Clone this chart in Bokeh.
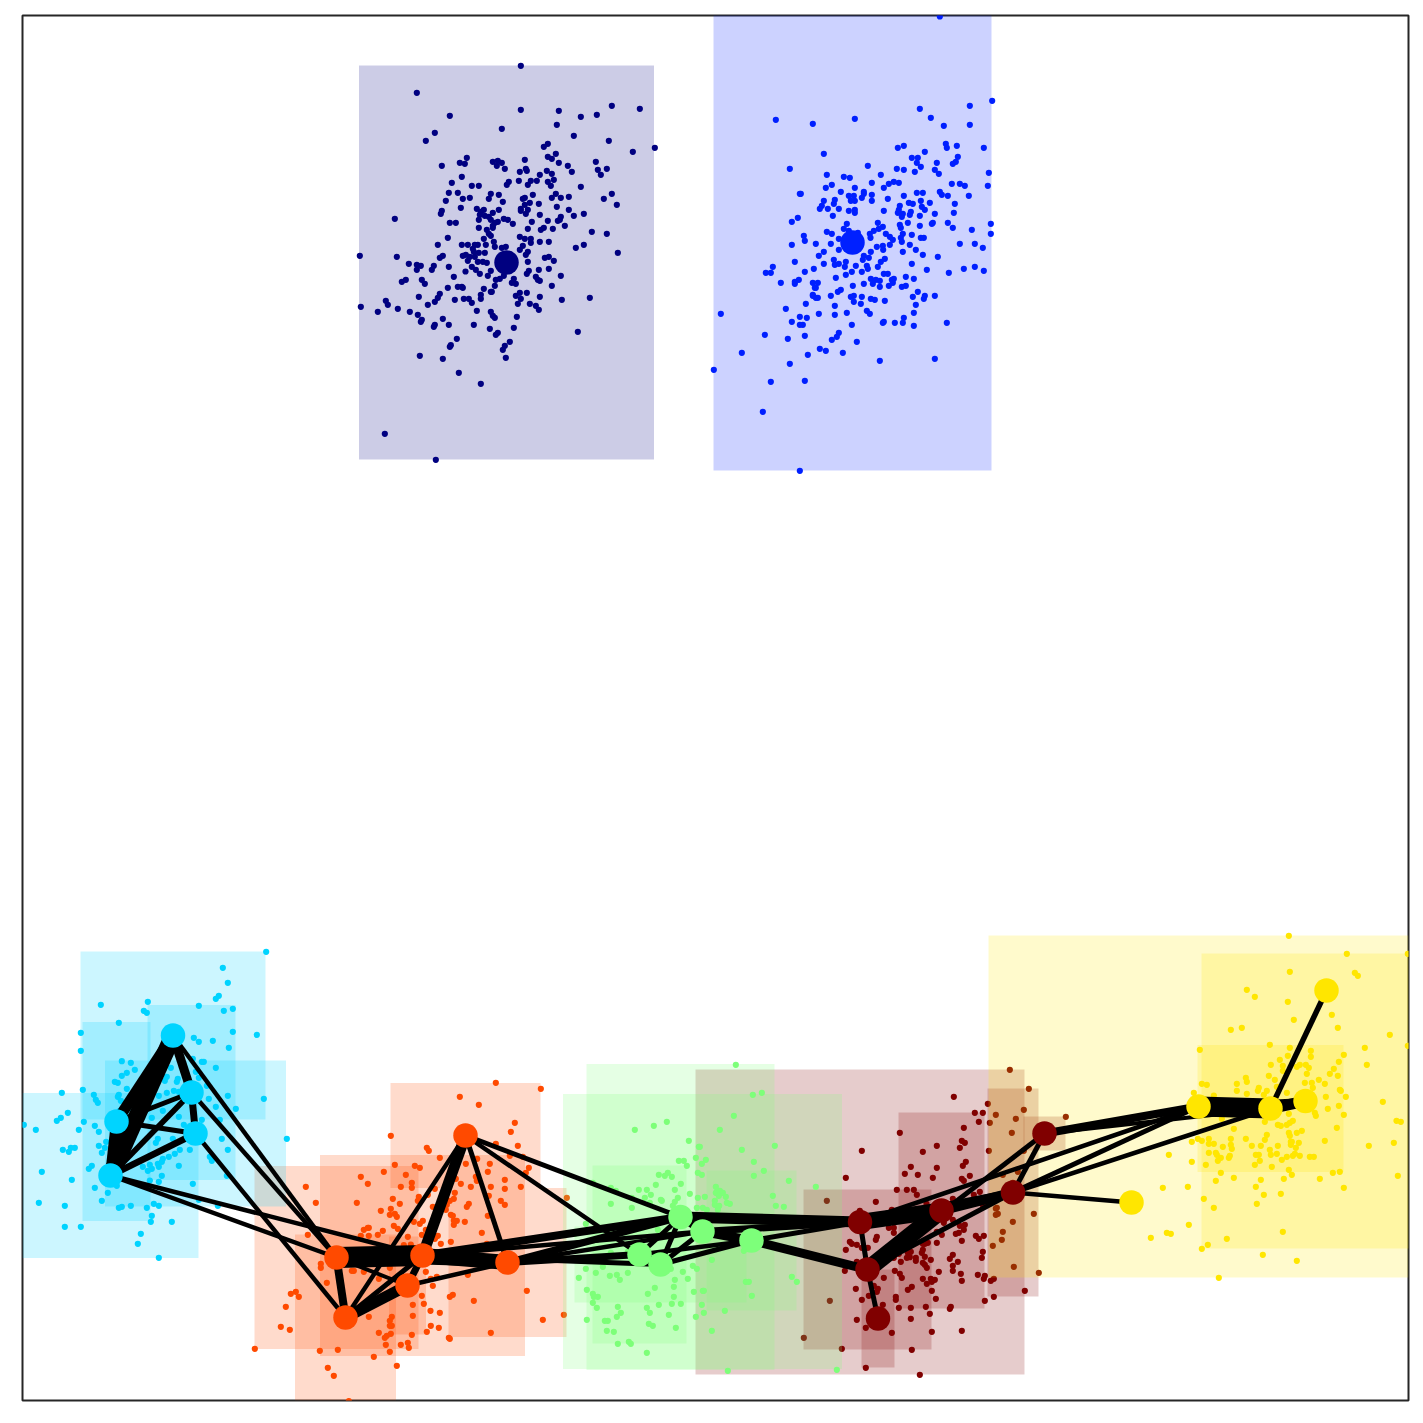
from bokeh.plotting import figure
from bokeh.models import Range1d
from bokeh.embed import file_html
from bokeh.resources import INLINE

colors = dict(darkred="#800000", orange="#ff4a00", yellow="#ffe600", green="#7dff7a",
              cyan="#00d4ff", blue="#0020ff", navy="#000080")

# scatter samples, read as (x, y) at 3x within a reference window whose origin is in origins
origins = dict(navy=(340, 50), blue=(700, 10), cyan=(15, 940), orange=(250, 1070),
               green=(555, 1055), darkred=(790, 1060), yellow=(1110, 925))

navy_pts = [(541,46),(229,127),(328,196),(541,178),(655,181),(721,199),(769,193),(814,166),(898,175),(943,292),(283,247),(256,271),(484,235),(649,223),(700,256),(805,271),(877,304),(622,280),(610,289),(646,310),(622,319),(634,325),(655,337),(682,346),(694,364),(766,334),(772,358),(781,373),(799,355),(304,346),(358,337),(373,340),(379,322),(457,334),(469,346),(484,337),(472,331),(493,355),(553,328),(538,364),(556,355),(559,361),(598,373),(619,361),(634,370),(640,388),(622,394),(631,406),(589,391),(571,391),(562,403),(535,391),(505,394),(499,403),(364,379),(334,397),(394,406),(415,406),(721,409),(325,427),(352,427),(367,445),(388,442),(451,430),(475,433),(445,445),(487,454),(316,451),(361,472),(409,475),(430,478),(421,484),(475,478),(457,487),(547,445),(553,442),(577,433),(568,457),(553,463),(541,475),(541,481),(562,478),(556,490),(595,460),(634,442),(646,430),(661,442),(685,439),(649,469),(685,478),(700,496),(730,490),(790,445),(814,430),(829,463),(304,481),(301,490),(598,493),(661,499),(652,511),(658,508),(622,511),(574,514),(163,505),(328,517),(346,517),(415,508),(418,493),(433,496),(445,499),(451,508),(463,517),(472,514),(457,526),(490,505),(502,508),(517,520),(415,532),(439,538),(457,532),(562,535),(601,538),(610,532),(637,535),(673,526),(754,544),(799,550),(322,562),(445,550),(451,556),(430,565),(538,559),(553,565),(571,565),(571,577),(598,574),(625,574),(730,583),(706,592),(292,583),(364,583),(382,583),(403,583),(412,583),(436,583),(460,574),(463,589),(484,592),(496,589),(547,586),(538,598),(832,607),(58,616),(169,619),(205,640),(229,643),(241,646),(229,658),(274,658),(280,646),(298,622),(307,616),(325,649),(367,616),(376,613),(382,631),(388,619),(397,595),(400,604),(403,619),(415,607),(433,607),(412,634),(427,634),(439,637),(394,649),(406,658),(418,670),(375,663),(451,661),(442,676),(562,604),(556,613),(562,634),(613,622),(625,619),(640,631),(625,655),(595,658),(565,661),(559,670),(586,679),(592,688),(598,691),(661,676),(340,679),(244,688),(253,700),(184,694),(196,688),(466,688),(478,685),(490,676),(514,697),(526,700),(520,685),(634,706),(322,712),(352,709),(364,709),(367,712),(430,715),(463,706),(451,724),(454,724),(298,730),(235,739),(292,742),(283,754),(262,763),(343,748),(370,745),(385,745),(394,757),(421,733),(421,745),(526,736),(538,727),(559,727),(541,745),(532,760),(598,739),(568,760),(586,766),(595,778),(664,748),(748,742),(136,751),(142,763),(61,769),(112,784),(172,775),(208,784),(232,793),(244,808),(241,814),(307,805),(325,823),(283,823),(280,829),(409,781),(451,784),(457,796),(463,802),(529,799),(400,823),(448,835),(472,847),(466,853),(520,832),(712,844),(349,865),(331,884),(328,889),(508,874),(493,886),(487,898),(238,916),(307,925),(496,922),(355,967),(421,1000),(133,1150),(286,1228)]

blue_pts = [(718,18),(875,271),(808,286),(658,295),(691,322),(226,328),(337,340),(463,325),(730,346),(808,343),(370,430),(592,412),(610,406),(736,400),(739,412),(769,406),(850,412),(673,424),(634,442),(652,442),(772,439),(766,454),(757,460),(709,457),(649,457),(661,469),(643,484),(703,478),(715,490),(268,475),(502,466),(589,475),(610,478),(865,487),(379,493),(430,499),(448,502),(541,493),(514,517),(565,520),(580,514),(595,517),(754,520),(778,520),(793,526),(862,526),(394,523),(376,532),(463,532),(550,532),(421,544),(298,550),(301,550),(445,556),(460,556),(490,544),(490,550),(484,562),(514,553),(514,571),(562,565),(610,556),(649,547),(667,547),(718,544),(724,553),(742,556),(805,556),(370,571),(403,568),(400,580),(451,571),(463,571),(364,586),(358,595),(382,595),(415,595),(445,601),(463,598),(463,607),(397,616),(550,601),(598,586),(595,598),(592,607),(607,610),(604,619),(625,577),(637,580),(661,571),(664,589),(673,598),(688,577),(763,580),(760,607),(703,610),(631,604),(628,613),(658,616),(292,622),(274,634),(439,640),(532,637),(598,643),(622,637),(601,652),(658,646),(697,637),(694,640),(742,637),(757,652),(871,640),(871,670),(814,658),(430,655),(379,664),(394,670),(445,661),(472,667),(547,649),(535,655),(520,661),(508,670),(510,682),(556,670),(568,679),(577,688),(607,670),(601,682),(604,694),(634,673),(661,682),(670,682),(310,676),(313,691),(274,703),(346,700),(391,700),(415,685),(415,718),(370,724),(355,736),(529,709),(547,706),(548,718),(568,703),(607,724),(628,703),(646,718),(667,733),(712,739),(778,700),(823,700),(847,712),(511,724),(490,736),(487,748),(505,742),(553,745),(541,754),(283,754),(400,748),(436,754),(403,763),(415,760),(370,760),(433,769),(466,766),(499,766),(502,775),(532,769),(634,760),(217,769),(196,787),(211,787),(340,775),(313,784),(454,784),(484,784),(436,793),(406,802),(550,790),(562,790),(679,778),(745,787),(790,775),(823,769),(850,781),(241,817),(283,820),(295,808),(283,814),(337,817),(352,817),(346,832),(343,832),(457,826),(490,820),(511,805),(526,808),(538,811),(517,820),(538,829),(565,826),(574,808),(580,805),(577,817),(616,799),(640,805),(604,829),(616,826),(337,856),(337,853),(346,862),(352,862),(391,856),(412,844),(421,838),(451,859),(460,856),(484,859),(511,865),(523,868),(553,871),(652,844),(637,859),(673,856),(670,865),(703,856),(316,880),(460,874),(481,880),(403,886),(646,883),(256,895),(61,910),(355,910),(403,913),(439,907),(499,901),(508,910),(640,907),(298,919),(319,922),(610,922),(274,934),(298,943),(307,943),(454,943),(547,937),(550,934),(583,937),(607,937),(640,946),(739,937),(193,973),(262,985),(313,976),(415,967),(409,979),(394,988),(469,994),(358,1015),(376,1021),(427,1027),(124,1027),(322,1033),(268,1060),(538,1051),(703,1045),(40,1078),(211,1114),(313,1111),(187,1204),(298,1381)]

cyan_pts = [(752,34),(622,82),(637,127),(610,166),(601,175),(256,193),(397,184),(385,211),(394,217),(550,196),(625,211),(652,205),(310,247),(196,277),(652,274),(724,283),(535,292),(550,304),(592,301),(640,322),(196,331),(319,362),(346,367),(358,388),(334,397),(319,406),(298,424),(307,427),(334,445),(532,355),(559,364),(565,364),(601,382),(466,382),(454,409),(448,421),(487,415),(484,424),(541,394),(550,412),(574,436),(139,457),(202,448),(235,463),(241,478),(247,487),(310,463),(307,469),(316,481),(355,475),(430,466),(454,457),(475,451),(490,454),(637,466),(745,475),(601,499),(580,475),(661,505),(313,511),(442,511),(157,517),(136,532),(124,541),(205,544),(238,556),(190,568),(61,568),(25,553),(250,574),(409,532),(490,529),(505,553),(559,538),(613,538),(472,595),(427,595),(421,607),(619,595),(814,595),(272,604),(250,616),(268,622),(259,637),(166,622),(178,622),(142,628),(160,634),(493,628),(523,628),(637,628),(478,640),(460,649),(442,655),(439,664),(427,670),(403,673),(382,679),(409,685),(397,691),(430,679),(490,676),(583,649),(589,661),(229,676),(220,685),(79,694),(169,718),(439,706),(403,720),(430,724),(532,730),(634,706),(238,742),(304,736),(277,757),(259,781),(70,787),(148,796),(310,802),(319,799),(346,796),(394,802),(415,790),(430,796),(550,778),(607,796),(409,826),(406,844),(469,844),(148,859),(196,859),(376,880),(367,910),(430,952)]

orange_pts = [(736,37),(871,55),(628,79),(685,103),(793,157),(781,184),(421,196),(736,220),(802,226),(529,232),(535,241),(568,262),(778,256),(817,259),(680,265),(646,280),(718,280),(433,283),(493,286),(508,292),(835,292),(712,304),(826,307),(400,304),(466,313),(331,319),(352,340),(484,337),(484,352),(451,349),(616,325),(631,340),(661,349),(676,319),(679,331),(721,349),(763,328),(763,355),(811,349),(166,349),(553,355),(613,367),(505,379),(502,391),(532,373),(427,385),(448,400),(610,385),(598,391),(589,403),(586,418),(547,409),(655,400),(649,409),(715,376),(751,391),(763,403),(949,382),(196,397),(319,397),(421,415),(391,421),(418,433),(433,430),(439,439),(712,436),(601,433),(607,436),(610,450),(619,451),(610,463),(643,454),(490,454),(517,451),(508,460),(430,466),(442,475),(340,478),(355,472),(352,472),(397,481),(382,493),(355,496),(331,496),(172,493),(472,499),(514,493),(526,478),(556,499),(562,496),(553,505),(694,487),(601,514),(571,520),(460,524),(481,522),(709,520),(211,580),(211,592),(304,601),(310,601),(340,604),(418,592),(385,625),(526,604),(559,619),(541,625),(652,613),(547,646),(229,637),(136,664),(121,670),(145,679),(106,709),(514,676),(607,673),(598,679),(670,691),(829,661),(487,703),(520,700),(540,721),(568,727),(487,736),(355,739),(424,739),(418,751),(418,766),(424,766),(940,733),(877,748),(91,769),(118,778),(541,766),(565,772),(529,784),(385,787),(421,790),(409,796),(403,802),(484,793),(721,787),(595,802),(598,805),(406,823),(472,817),(451,823),(475,832),(13,835),(208,841),(262,838),(418,844),(370,859),(439,886),(232,892),(250,916),(295,992)]

green_pts = [(541,28),(592,118),(619,112),(535,181),(238,223),(295,211),(334,199),(493,223),(400,256),(430,274),(433,274),(559,283),(658,271),(421,307),(451,313),(439,325),(370,316),(385,316),(394,331),(595,319),(625,346),(595,361),(427,352),(439,358),(310,358),(328,361),(337,352),(349,364),(376,385),(301,388),(112,382),(166,397),(181,406),(250,403),(274,403),(286,418),(268,427),(229,427),(358,403),(403,415),(367,427),(316,433),(319,436),(283,442),(358,439),(352,451),(166,445),(229,457),(427,427),(448,424),(481,394),(481,412),(493,406),(502,412),(490,421),(511,424),(478,436),(478,448),(514,442),(523,445),(424,457),(442,457),(454,463),(487,463),(491,451),(652,421),(661,451),(685,454),(700,376),(781,394),(346,472),(91,505),(58,535),(217,514),(307,523),(166,592),(217,589),(565,586),(469,613),(412,631),(424,640),(91,640),(142,634),(121,652),(70,667),(163,661),(184,658),(193,673),(217,652),(382,649),(397,670),(358,673),(346,640),(709,664),(724,679),(571,679),(580,679),(94,703),(112,715),(115,724),(127,724),(298,697),(277,715),(355,694),(355,724),(415,709),(442,706),(445,706),(589,721),(112,742),(124,757),(187,754),(196,772),(184,784),(310,748),(349,745),(376,745),(439,748),(274,757),(283,772),(340,778),(421,784),(445,772),(508,766),(94,793),(148,796),(157,796),(280,805),(292,811),(361,817),(154,826),(175,829),(469,826),(187,865),(220,859),(226,865),(274,892),(517,946),(844,943)]

darkred_pts = [(658,28),(715,85),(490,109),(592,130),(553,157),(577,157),(616,163),(700,148),(676,175),(826,169),(565,184),(598,187),(520,202),(328,217),(664,217),(514,241),(523,247),(439,256),(508,262),(214,271),(397,274),(595,271),(700,271),(526,304),(517,316),(361,319),(439,322),(343,340),(382,343),(427,352),(538,346),(166,352),(514,355),(520,361),(682,334),(637,343),(667,367),(319,388),(349,388),(370,388),(379,403),(568,394),(550,403),(487,415),(256,424),(408,430),(577,433),(109,421),(616,444),(619,442),(616,463),(622,460),(730,460),(667,484),(208,451),(304,448),(460,487),(487,478),(508,496),(523,493),(520,508),(295,502),(310,502),(310,517),(259,529),(256,538),(637,514),(439,514),(454,523),(496,520),(505,517),(439,547),(514,541),(556,526),(565,535),(580,526),(634,538),(607,556),(178,544),(184,550),(199,553),(166,568),(214,562),(232,562),(397,550),(412,547),(403,550),(397,568),(394,577),(361,574),(352,577),(349,592),(358,590),(325,580),(310,592),(331,604),(376,592),(376,601),(403,589),(421,598),(478,595),(487,583),(502,604),(577,574),(574,592),(397,607),(403,613),(409,622),(445,634),(487,616),(487,631),(511,640),(670,619),(745,637),(199,604),(163,631),(313,631),(328,640),(334,652),(280,652),(562,643),(583,646),(580,655),(601,661),(610,655),(397,655),(421,655),(433,658),(424,664),(409,670),(514,661),(364,679),(352,688),(424,691),(703,691),(250,676),(262,685),(259,694),(196,685),(214,718),(235,706),(316,709),(316,718),(436,715),(610,709),(583,721),(277,733),(325,742),(361,742),(406,739),(481,739),(478,745),(418,760),(118,721),(361,775),(199,778),(226,802),(304,817),(424,814),(514,811),(40,832),(154,865),(364,868),(226,922),(388,943)]

yellow_pts = [(535,31),(709,85),(892,85),(538,139),(733,142),(742,151),(409,193),(433,214),(532,229),(664,268),(550,283),(682,307),(394,307),(361,313),(838,328),(478,358),(892,361),(538,367),(268,373),(601,376),(763,367),(532,391),(601,394),(700,388),(508,403),(685,409),(481,418),(517,421),(517,436),(559,424),(568,418),(586,418),(595,427),(769,418),(670,430),(658,445),(682,451),(589,445),(475,451),(406,457),(409,469),(493,463),(625,463),(583,472),(604,472),(643,475),(379,475),(274,475),(289,478),(607,487),(445,487),(442,496),(469,496),(379,496),(409,505),(460,508),(499,484),(529,502),(250,502),(310,510),(688,493),(691,496),(646,514),(706,514),(817,529),(685,541),(652,550),(700,568),(535,565),(613,562),(616,571),(858,586),(871,589),(334,580),(463,589),(502,598),(511,601),(529,598),(538,592),(547,586),(679,607),(370,610),(574,616),(559,622),(535,622),(538,631),(469,628),(463,643),(406,640),(361,640),(262,640),(274,646),(295,640),(244,649),(295,655),(310,655),(643,646),(541,649),(544,649),(565,652),(541,658),(850,652),(424,661),(451,661),(502,661),(337,664),(361,658),(364,670),(556,667),(775,661),(478,673),(295,682),(316,682),(319,688),(175,688),(436,688),(445,688),(481,688),(499,685),(553,685),(547,691),(529,694),(568,691),(598,694),(610,694),(331,697),(322,706),(355,697),(358,691),(514,703),(448,706),(244,709),(433,718),(286,718),(484,724),(331,742),(535,733),(667,742),(688,739),(544,748),(370,757),(862,751),(451,763),(316,766),(520,760),(628,760),(232,784),(157,787),(436,784),(700,787),(460,808),(511,805),(280,820),(439,835),(310,847),(235,898),(121,937),(169,922),(181,925),(517,919),(349,940),(292,958),(274,970),(457,988),(559,1006),(325,1057)]

points = dict(navy=navy_pts, blue=blue_pts, cyan=cyan_pts, orange=orange_pts,
              green=green_pts, darkred=darkred_pts, yellow=yellow_pts)

# nodes: name -> (cluster, x, y)
nodes = dict(
    c1=("cyan",172.5,1035), c2=("cyan",191,1092), c3=("cyan",195,1133), c4=("cyan",116,1121), c5=("cyan",110,1175),
    o1=("orange",465,1135), o2=("orange",336,1257), o3=("orange",422,1255), o4=("orange",407,1285), o5=("orange",507,1262), o6=("orange",345,1317),
    g1=("green",680,1216.5), g2=("green",702,1231), g3=("green",751,1240), g4=("green",639,1254), g5=("green",660,1264),
    r1=("darkred",859.5,1221.5), r2=("darkred",941,1210), r3=("darkred",1012.5,1192), r4=("darkred",1044,1133), r5=("darkred",867,1269), r6=("darkred",877.5,1318),
    y1=("yellow",1326,990), y2=("yellow",1198,1106), y3=("yellow",1270,1108), y4=("yellow",1305,1100.5), y5=("yellow",1131,1202),
    n1=("navy",506,262), b1=("blue",852,242),
)

# extent of each node's box: (node, half width, half height)
boxes = [("r1",164.5,152.5),("r2",43,98),("r3",25.5,104),("r4",21,17),("r5",64,80),("r6",16.5,49),
         ("o1",75,52.5),("o2",82,91.5),("o3",102.5,100.5),("o4",18.5,49),("o5",59,74.5),("o6",50.5,83),
         ("y2",210,171),("y3",73,63.5),("y4",104,147.5),
         ("g1",94,153),("g2",139.5,137.5),("g3",45,70),("g4",47,89),("g5",86,38),
         ("c1",92.5,84),("c2",44,87.5),("c3",90.5,73),("c4",34,99.5),("c5",88,82.5),
         ("b1",139,228),("n1",147.5,197)]

edges = [("c1","c5",17),("c1","c4",11),("c1","c2",9),("c2","c3",7),("c2","c5",5.5),("c2","c4",5),("c3","c4",5),("c3","c5",6.5),("c4","c5",11),
         ("c1","o2",4.5),("c2","o2",4.5),("c3","o6",4.5),("c5","o2",4.5),("c5","o3",4.5),
         ("o2","o3",21),("o3","o5",15),("o2","o5",9),("o2","o6",8),("o6","o4",11),("o6","o3",5),("o6","o1",4.5),("o1","o3",11),("o1","o5",5),("o2","o4",4),("o4","o3",7),("o4","o5",4.5),
         ("o1","g1",5),("o1","g4",4.5),("o3","g1",8),("o5","g1",7),("o5","g4",7),("o3","g5",5),("o3","g2",4.5),("o5","g2",4.5),
         ("g1","r1",11),("g2","g3",9),("g3","r5",9),("g2","r1",7),("g5","g3",5),("g4","g3",4.5),("g4","g5",8),("g1","g4",5),("g1","g5",5),("g1","g2",7),("g5","g2",5),("g3","r1",5),
         ("r1","r2",16),("r2","r3",10),("r1","r3",7),("r5","r2",17),("r5","r3",5),("r5","r4",5),("r1","r5",5),("r5","r6",5),("r3","r4",5),
         ("r3","y5",4.5),("r3","y2",5),("r3","y3",4.5),("r4","y2",8),("r4","y3",4),("r1","y2",4.5),
         ("y2","y3",20),("y3","y4",11),("y2","y4",6),("y3","y1",5.5)]

cluster_order = ["darkred","orange","yellow","green","cyan","blue","navy"]

p = figure(width=1415, height=1415, x_range=Range1d(22, 1408), y_range=Range1d(1400, 15),
           output_backend="svg", toolbar_location=None, min_border_left=22, min_border_right=7,
           min_border_top=15, min_border_bottom=15)
p.xaxis.visible = False
p.yaxis.visible = False
p.grid.visible = False
p.outline_line_color = "#262626"
p.outline_line_width = 2
p.background_fill_color = "#ffffff"

for name in cluster_order:
    ox, oy = origins[name]
    xs = [ox + a / 3 for a, b in points[name]]
    ys = [oy + b / 3 for a, b in points[name]]
    p.scatter(xs, ys, size=6.2, color=colors[name], line_width=0)
    bx = [b for b in boxes if nodes[b[0]][0] == name]
    p.quad(left=[nodes[b[0]][1] - b[1] for b in bx], right=[nodes[b[0]][1] + b[1] for b in bx],
           bottom=[nodes[b[0]][2] + b[2] for b in bx], top=[nodes[b[0]][2] - b[2] for b in bx],
           fill_color=colors[name], fill_alpha=0.2, line_width=0, line_color=None)

p.segment(x0=[nodes[a][1] for a, b, w in edges], y0=[nodes[a][2] for a, b, w in edges],
          x1=[nodes[b][1] for a, b, w in edges], y1=[nodes[b][2] for a, b, w in edges],
          line_width=[w for a, b, w in edges], line_color="#000000")

for name in cluster_order:
    nn = [v for v in nodes.values() if v[0] == name]
    p.scatter([v[1] for v in nn], [v[2] for v in nn], size=24.5, color=colors[name], line_width=0)

open("out.html", "w").write(file_html(p, INLINE))
